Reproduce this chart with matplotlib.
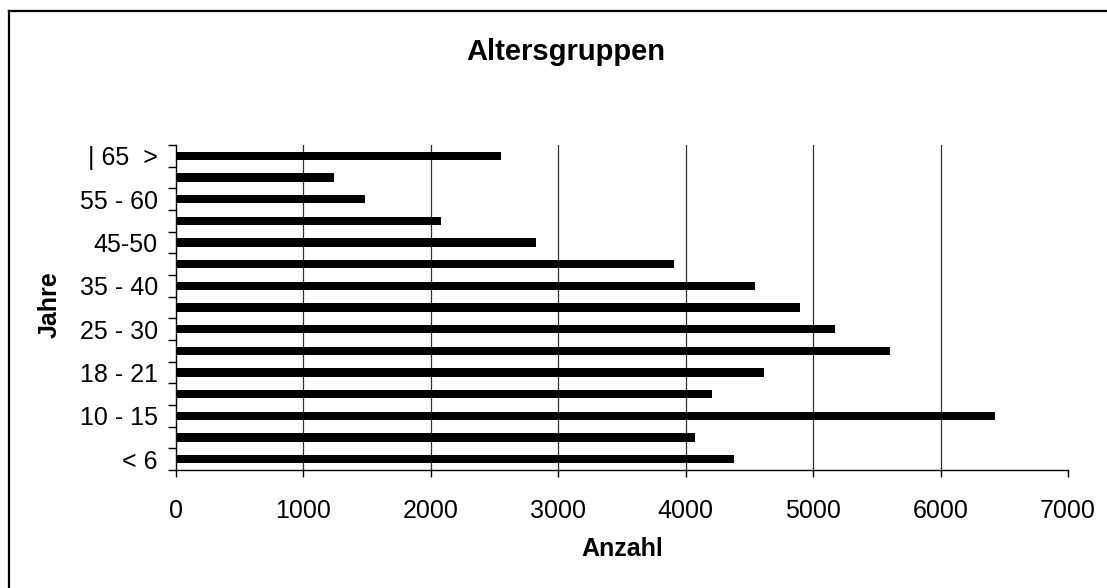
import matplotlib.pyplot as plt
from matplotlib.lines import Line2D

plt.rcParams['font.family'] = ['Liberation Sans', 'DejaVu Sans']

# Altersgruppen (von unten nach oben)
gruppen = ["< 6", "6 - 10", "10 - 15", "15 - 18", "18 - 21", "21 - 25", "25 - 30",
           "30 - 35", "35 - 40", "40 - 45", "45-50", "50 - 55", "55 - 60", "60 - 65",
           "| 65  >"]
anzahl = [4376, 4073, 6427, 4209, 4614, 5602, 5170, 4899, 4540, 3908, 2824, 2081,
          1482, 1242, 2550]
x_ticks = [0, 1000, 2000, 3000, 4000, 5000, 6000, 7000]

fig = plt.figure(figsize=(11.07, 5.88), dpi=100)
ax = fig.add_axes([176 / 1107, 1 - 470 / 588, (1068 - 176) / 1107, (470 - 145) / 588])

pos = list(range(len(gruppen)))
ax.barh(pos, anzahl, height=0.38, color='black', zorder=3)

ax.set_xlim(0, 7000)
ax.set_ylim(-0.5, len(gruppen) - 0.5)

# Gitterlinien
for v in x_ticks[1:-1]:
    ax.axvline(v, color='#333333', linewidth=0.9, zorder=1)

ax.set_xticks(x_ticks)
ax.set_xticklabels([str(v) for v in x_ticks])
ax.tick_params(axis='x', direction='out', length=5, width=1, pad=16, labelsize=18)

# Kategorie-Grenzen als Haupt-Ticks, Beschriftung nur jede zweite Gruppe
ax.set_yticks([p - 0.5 for p in pos] + [len(gruppen) - 0.5])
ax.set_yticklabels([])
ax.set_yticks(pos[::2], minor=True)
ax.set_yticklabels(gruppen[::2], minor=True)
ax.tick_params(axis='y', which='major', direction='out', length=6, width=1)
ax.tick_params(axis='y', which='minor', length=0, pad=13, labelsize=18)

for s in ['top', 'right']:
    ax.spines[s].set_visible(False)
for s in ['left', 'bottom']:
    ax.spines[s].set_linewidth(1)

fig.text(566 / 1107, 1 - 52 / 588, "Altersgruppen", ha='center', va='center',
         fontsize=21, fontweight='bold')
fig.text(622 / 1107, 1 - 549 / 588, "Anzahl", ha='center', va='center',
         fontsize=18, fontweight='bold')
fig.text(50 / 1107, 1 - 305 / 588, "Jahre", ha='center', va='center',
         rotation=90, fontsize=18, fontweight='bold')

# Rahmen (nur oben und links sichtbar)
x0, y0 = 8.5 / 1107, 1 - 11 / 588
fig.add_artist(Line2D([x0, 1.0], [y0, y0], transform=fig.transFigure,
                      color='black', linewidth=1.6))
fig.add_artist(Line2D([x0, x0], [0.0, y0], transform=fig.transFigure,
                      color='black', linewidth=1.6))

fig.savefig("out.png", dpi=100, facecolor='white')
